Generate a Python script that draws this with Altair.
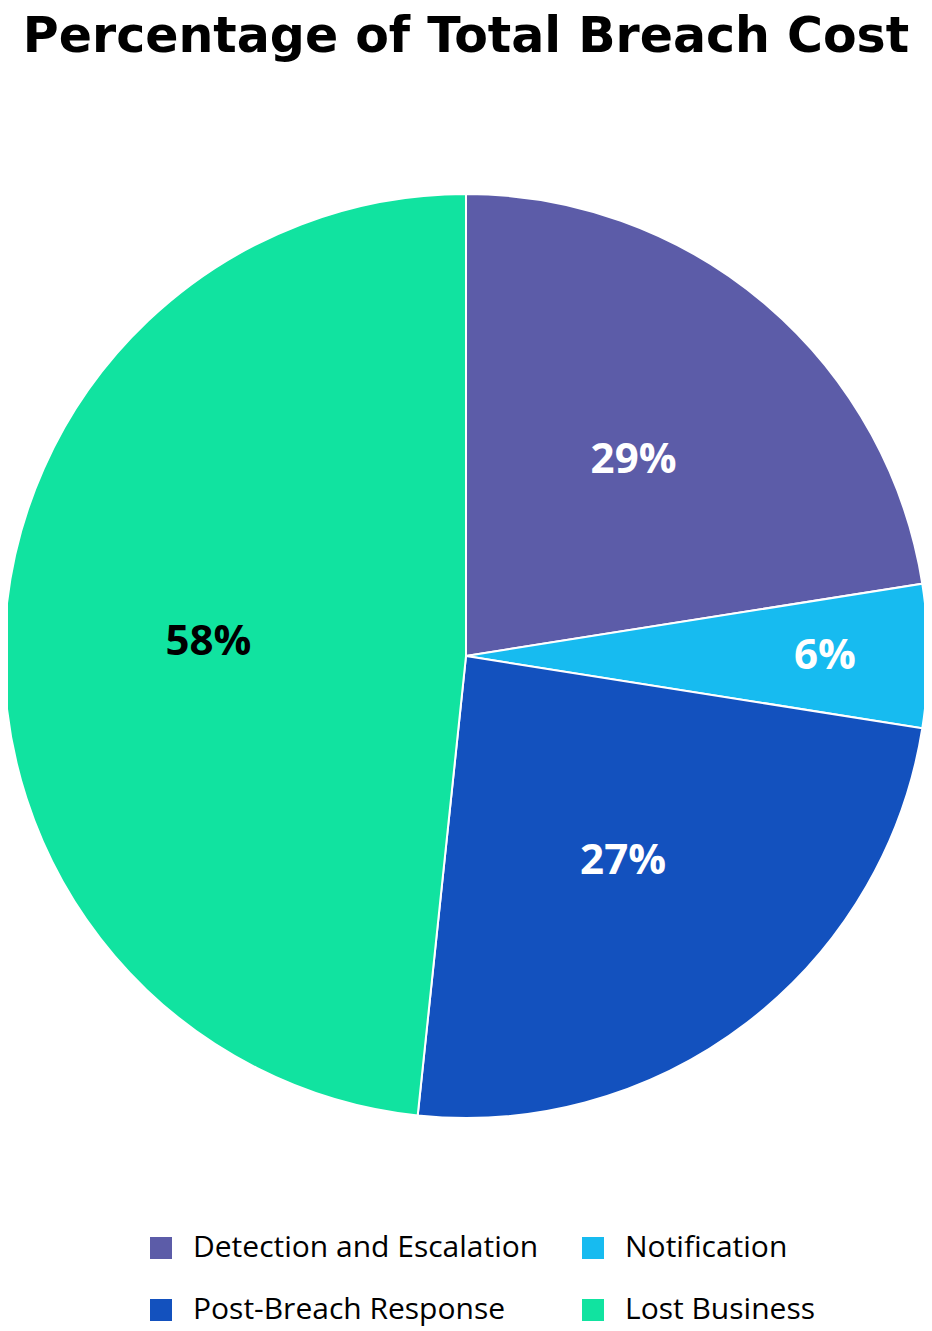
import altair as alt
import pandas as pd

categories = ["Detection and Escalation", "Notification", "Post-Breach Response", "Lost Business"]
slice_values = [27, 6, 29, 58]
label_text = ["29%", "6%", "27%", "58%"]
colors = ["#5C5CA8", "#17BBF0", "#1351BE", "#11E3A0"]

df = pd.DataFrame({
    "category": categories,
    "value": slice_values,
    "label": label_text,
    "order": list(range(len(categories))),
})

base = alt.Chart(df).encode(
    theta=alt.Theta("value:Q", stack=True),
    order=alt.Order("order:Q"),
)

pie = base.mark_arc(outerRadius=462, stroke="white", strokeWidth=2).encode(
    color=alt.Color(
        "category:N",
        scale=alt.Scale(domain=categories, range=colors),
        legend=alt.Legend(
            title=None,
            orient="none",
            direction="horizontal",
            legendX=138,
            legendY=1165,
            columns=2,
            symbolType="square",
            symbolSize=484,
            symbolStrokeWidth=0,
            labelFontSize=30,
            labelFont="Open Sans",
            labelColor="black",
            labelOffset=17,
            rowPadding=32,
            columnPadding=39,
            padding=0,
            labelLimit=600,
        ),
    )
)

label_font = "Open Sans"

labels_main = base.mark_text(radius=258, fontSize=42, fontWeight="bold", font=label_font).encode(
    text=alt.condition(alt.datum.category != "Notification", alt.Text("label:N"), alt.value("")),
    color=alt.condition(alt.datum.category == "Lost Business", alt.value("black"), alt.value("white")),
)

labels_small = base.mark_text(radius=359, fontSize=42, fontWeight="bold", font=label_font).encode(
    text=alt.condition(alt.datum.category == "Notification", alt.Text("label:N"), alt.value("")),
    color=alt.value("white"),
)

chart = alt.layer(pie, labels_main, labels_small).properties(
    width=916,
    height=1176,
    title=alt.TitleParams(
        "Percentage of Total Breach Cost",
        fontSize=49,
        font="DejaVu Sans",
        fontWeight="bold",
        color="black",
        anchor="middle",
        offset=6,
    ),
    padding={"top": 60, "left": 0, "right": 0, "bottom": 87},
    autosize=alt.AutoSizeParams(type="none"),
).configure_view(stroke=None)

chart.save("out.html", embed_options={"renderer": "svg", "actions": False})
